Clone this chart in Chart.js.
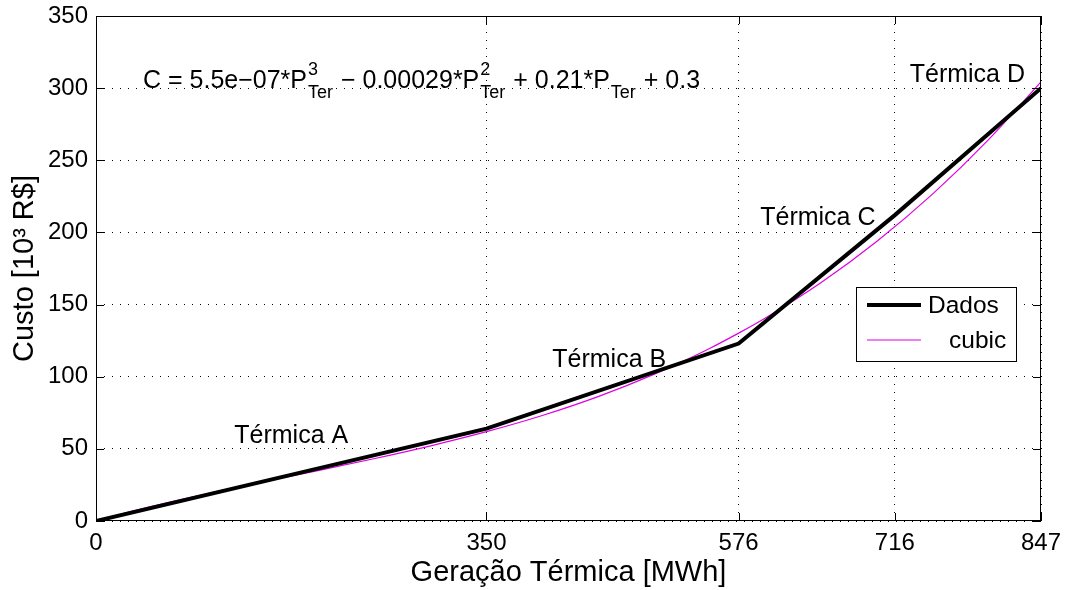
<!DOCTYPE html>
<html>
<head>
<meta charset="utf-8">
<script src="https://cdn.jsdelivr.net/npm/chart.js@4.4.1/dist/chart.umd.min.js"></script>
<style>
  html, body { margin: 0; padding: 0; background: #fff; }
</style>
</head>
<body>
<canvas id="custoChart" width="1067" height="590"></canvas>
<script>
// tick positions on each axis
const geracaoTicks = [0, 350, 576, 716, 847];
const custoTicks = [0, 50, 100, 150, 200, 250, 300, 350];

// measured cost per plant (cumulative generation x cost)
const dadosGeracao = [0, 350, 576, 716, 847];
const dadosCusto = [0, 64, 123, 212, 300];

// fitted cubic curve, sampled
const cubicGeracao = [0, 50, 100, 150, 200, 250, 300, 350, 400, 450, 500, 550, 576, 600, 650, 700, 750, 800, 847];
const cubicCusto = [0.3, 10.1, 19.0, 27.1, 35.1, 43.3, 52.1, 61.9, 73.1, 86.2, 101.6, 119.6, 130.2, 140.7, 165.3, 193.9, 226.7, 264.3, 304.3];

const plantNames = ['Térmica A', 'Térmica B', 'Térmica C', 'Térmica D'];
// where each plant name sits (data units, text centre / baseline)
const plantLabelPos = [[175, 54], [460, 107], [647, 205], [781, 304]];

const FONT = '"Liberation Sans", Arial, Helvetica, sans-serif';

function pts(xs, ys) {
  return xs.map((x, i) => ({ x: x, y: ys[i] }));
}

// equation drawn at the top left, with stacked super/subscripts
const equacao = [
  { t: 'C = 5.5e\u221207*P' }, { sup: '3', sub: 'Ter' },
  { t: ' \u2212 0.00029*P' }, { sup: '2', sub: 'Ter' },
  { t: ' + 0.21*P' }, { sub: 'Ter' },
  { t: ' + 0.3' }
];

const overlay = {
  id: 'overlay',
  afterDatasetsDraw(chart) {
    const ctx = chart.ctx;
    const ca = chart.chartArea;
    const xs = chart.scales.x, ys = chart.scales.y;
    ctx.save();

    // axes box
    ctx.strokeStyle = '#000';
    ctx.lineWidth = 1;
    ctx.strokeRect(ca.left + 0.5, ca.top + 0.5, ca.right - ca.left - 1, ca.bottom - ca.top - 1);

    // inward tick marks on all four sides
    const tl = 8;
    ctx.beginPath();
    geracaoTicks.forEach(v => {
      const px = Math.round(xs.getPixelForValue(v)) + 0.5;
      ctx.moveTo(px, ca.bottom); ctx.lineTo(px, ca.bottom - tl);
      ctx.moveTo(px, ca.top); ctx.lineTo(px, ca.top + tl);
    });
    custoTicks.forEach(v => {
      const py = Math.round(ys.getPixelForValue(v)) + 0.5;
      ctx.moveTo(ca.left, py); ctx.lineTo(ca.left + tl, py);
      ctx.moveTo(ca.right, py); ctx.lineTo(ca.right - tl, py);
    });
    ctx.stroke();

    // plant names
    ctx.fillStyle = '#000';
    ctx.font = '25px ' + FONT;
    ctx.textAlign = 'center';
    ctx.textBaseline = 'alphabetic';
    plantNames.forEach((name, i) => {
      const p = plantLabelPos[i];
      ctx.fillText(name, xs.getPixelForValue(p[0]), ys.getPixelForValue(p[1]));
    });

    // equation
    ctx.textAlign = 'left';
    let x = ca.left + 47;
    const base = ca.top + 72;
    equacao.forEach(seg => {
      if (seg.t) {
        ctx.font = '25px ' + FONT;
        ctx.fillText(seg.t, x, base);
        x += ctx.measureText(seg.t).width;
      } else {
        ctx.font = '18px ' + FONT;
        let w = 0;
        if (seg.sup) { ctx.fillText(seg.sup, x + 1, base - 13); w = ctx.measureText(seg.sup).width; }
        if (seg.sub) { ctx.fillText(seg.sub, x + 1, base + 10); w = Math.max(w, ctx.measureText(seg.sub).width); }
        x += w + 2;
      }
    });

    // legend box inside the plot
    const bx = ca.right - 185, by = ca.top + 271, bw = 160, bh = 74;
    ctx.fillStyle = '#fff';
    ctx.fillRect(bx, by, bw, bh);
    ctx.strokeStyle = '#000';
    ctx.lineWidth = 1;
    ctx.strokeRect(bx + 0.5, by + 0.5, bw, bh);
    const textX = [bx + 72, bx + 93];
    chart.data.datasets.forEach((ds, i) => {
      const ly = by + 18 + i * 35;
      ctx.strokeStyle = ds.borderColor;
      ctx.lineWidth = ds.borderWidth;
      ctx.beginPath();
      ctx.moveTo(bx + 11, ly); ctx.lineTo(bx + 65, ly);
      ctx.stroke();
      ctx.fillStyle = '#000';
      ctx.font = '24.5px ' + FONT;
      ctx.textBaseline = 'middle';
      ctx.fillText(ds.label, textX[i], ly + 1);
    });
    ctx.restore();
  }
};

const gridDash = [1, 7];

new Chart(document.getElementById('custoChart'), {
  type: 'line',
  data: {
    datasets: [
      {
        label: 'Dados',
        data: pts(dadosGeracao, dadosCusto),
        borderColor: '#000',
        borderWidth: 4,
        pointRadius: 0,
        tension: 0
      },
      {
        label: 'cubic',
        data: pts(cubicGeracao, cubicCusto),
        borderColor: '#e000e0',
        borderWidth: 1.2,
        pointRadius: 0,
        cubicInterpolationMode: 'monotone'
      }
    ]
  },
  options: {
    responsive: false,
    animation: false,
    layout: { padding: { top: 16, right: 26, left: 0, bottom: 0 } },
    plugins: {
      legend: { display: false },
      tooltip: { enabled: false }
    },
    scales: {
      x: {
        type: 'linear',
        min: 0,
        max: 847,
        afterBuildTicks: s => { s.ticks = geracaoTicks.map(v => ({ value: v })); },
        afterFit: s => { s.height = 69; s.paddingLeft = 0; s.paddingRight = 0; },
        ticks: {
          color: '#000',
          font: { family: FONT, size: 24 },
          padding: 8,
          maxRotation: 0,
          autoSkip: false
        },
        grid: { color: '#000', lineWidth: 1, drawTicks: false },
        border: { display: false, dash: gridDash },
        title: {
          display: true,
          text: 'Geração Térmica [MWh]',
          color: '#000',
          font: { family: FONT, size: 29 },
          padding: { top: 0, bottom: 0 }
        }
      },
      y: {
        min: 0,
        max: 350,
        afterBuildTicks: s => { s.ticks = custoTicks.map(v => ({ value: v })); },
        afterFit: s => { s.width = 96; s.paddingTop = 0; s.paddingBottom = 0; },
        ticks: {
          color: '#000',
          font: { family: FONT, size: 24 },
          padding: 8
        },
        grid: { color: '#000', lineWidth: 1, drawTicks: false },
        border: { display: false, dash: gridDash },
        title: {
          display: true,
          text: 'Custo [10³ R$]',
          color: '#000',
          font: { family: FONT, size: 29 },
          padding: { top: 8, bottom: 0 }
        }
      }
    }
  },
  plugins: [overlay]
});
</script>
</body>
</html>
